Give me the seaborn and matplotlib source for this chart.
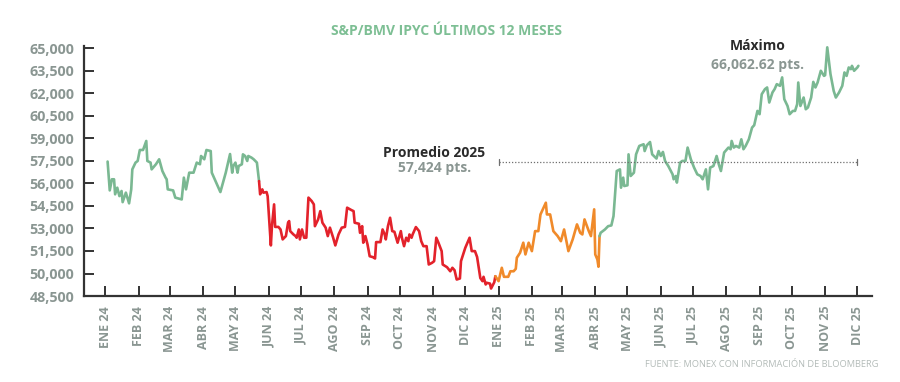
import matplotlib
matplotlib.use('agg')

import pandas as pd
import seaborn as sns
import matplotlib.pyplot as plt
from matplotlib.ticker import FuncFormatter

sns.set_style('white')
plt.rcParams['font.family'] = ['Open Sans', 'DejaVu Sans']

# days since 2024-01-01 and index level
days = [2, 4, 6, 8, 9, 11, 13, 15, 16, 19, 22, 24, 25, 28, 30, 32, 35, 38, 39, 42,
        43, 47, 50, 53, 56, 57, 58, 63, 65, 71, 73, 75, 78, 82, 85, 88, 89, 92, 94, 98,
        99, 107, 112, 116, 118, 119, 121, 123, 124, 127, 128, 130, 132, 133, 136, 138, 141,
        143, 144, 146, 147, 150, 151, 154, 155, 157, 158, 161, 163, 165, 168, 170, 171, 172,
        175, 177, 178, 180, 181, 183, 185, 187, 189, 192, 194, 195, 198, 200, 202, 205, 207,
        209, 212, 214, 217, 220, 223, 225, 229, 231, 232, 236, 237, 239, 240, 242, 244, 246,
        249, 251, 252, 256, 258, 260, 261, 263, 265, 267, 269, 272, 275, 276, 278, 280, 282,
        283, 285, 286, 289, 292, 294, 296, 299, 301, 304, 306, 308, 310, 313, 314, 318, 321,
        323, 325, 327, 330, 331, 335, 339, 341, 344, 346, 349, 351, 352, 354, 355, 358, 359,
        362, 363, 366, 369, 371, 375, 377, 380, 382, 383, 386, 389, 391, 394, 397, 400, 403,
        405, 410, 411, 414, 417, 421, 424, 427, 431, 435, 439, 442, 444, 446, 450, 452, 455,
        456, 458, 459, 460, 461, 465, 468, 471, 473, 476, 479, 480, 482, 483, 486, 487, 489,
        492, 494, 497, 501, 502, 504, 507, 509, 513, 515, 517, 519, 521, 524, 528, 529, 531,
        532, 535, 537, 540, 542, 545, 548, 551, 554, 556, 559, 561, 563, 566, 569, 571, 573,
        576, 580, 582, 583, 585, 587, 590, 592, 594, 596, 599, 602, 604, 607, 609, 611, 614,
        616, 618, 621, 623, 625, 628, 630, 632, 635, 637, 640, 642, 644, 645, 647, 650, 652,
        654, 657, 659, 661, 663, 666, 669, 670, 672, 675, 678, 680, 683, 686, 688, 690, 692,
        694, 695, 697, 700, 701]

values = [57450, 55530, 56270, 56270, 55270, 55710, 55150, 55490, 54750, 55380, 54670, 55600,
          56930, 57380, 57490, 58220, 58220, 58820, 57490, 57380, 56930, 57270, 57600, 56820,
          56380, 56270, 55600, 55530, 55050, 54930, 56380, 55600, 56710, 56710, 57380, 57270,
          57820, 57600, 58220, 58150, 56710, 55420, 56710, 57950, 56710, 57150, 57380, 56710,
          57150, 57270, 57930, 57820, 57490, 57820, 57710, 57600, 57380,
          56150, 55270, 55600, 55380, 55420, 55150, 51870, 53150, 54600, 53100, 53100, 52930,
          52270, 52490, 53380, 53490, 52820, 52600, 52490, 52380, 52930, 52270, 52930, 52380,
          52380, 55050, 54820, 54600, 53150, 53600, 54150, 53380, 53050, 52490, 53050, 52380,
          51870, 52600, 53050, 53100, 54380, 54220, 54150, 53380, 53310, 52710, 53150, 52050,
          52490, 51930, 51150, 51090, 51000, 52090, 52090, 52930, 52600, 52270, 53150, 53710,
          52820, 52780, 52050, 52820, 52380, 51820, 52380, 52150, 52600, 52380, 52600, 53090,
          52820, 52150, 51820, 51820, 50600, 50710, 50820, 52380, 52050, 51490, 50600, 50420,
          50150, 50380, 50220, 49600, 49670, 50820, 51710, 52380, 51490, 51490, 51100, 49700,
          49490, 49780, 49270, 49380, 49330, 49000, 49420,
          49820, 49490, 50380, 49780, 49780, 50150, 50150, 50310, 51050, 51380, 52050, 51270,
          52050, 51490, 52820, 52820, 53930, 54710, 53930, 53930, 52820, 52490, 52150, 52930,
          51490, 52270, 53270, 52710, 52600, 53600, 52820, 52490, 54270, 51270, 50930, 50450,
          52490, 52710, 52930, 53150, 53200, 53820, 56820, 56930, 55710, 56380, 55820, 55870,
          57930, 56490, 56710, 57930, 58490, 58600, 58150, 58530, 58750, 57930, 57650, 58150,
          57820, 58090, 57490, 57150, 56600, 56270, 56490, 56050, 57380, 57490, 57490, 58380,
          57600, 57050, 56600, 56490, 56270, 56930, 55600, 57050, 57150, 57820, 57270, 56820,
          58050, 58380, 58270, 58820, 58380, 58490, 58380, 58930, 58270, 58490, 58930, 59710,
          59870, 60820, 60600, 61930, 62270, 62380, 61380, 62050, 62270, 62600, 62490, 63050,
          61600, 61150, 60600, 60820, 60820, 61270, 62710, 61150, 61710, 60930, 61050, 61710,
          62750, 62380, 62710, 63490, 63150, 63200, 65050, 63270, 62150, 61710, 62050, 62490,
          63380, 63150, 63710, 63600, 63820, 63490, 63710, 63820]

# colour phases (first and last day of each segment)
phase_start = [0, 143, 363, 460]
phase_end = [143, 363, 460, 701]
phase_color = ['#7ab892', '#e3222b', '#f08a2a', '#7ab892']

avg_2025 = 57424
max_label = '66,062.62 pts.'
meses = ['ENE', 'FEB', 'MAR', 'ABR', 'MAY', 'JUN', 'JUL', 'AGO', 'SEP', 'OCT', 'NOV', 'DIC']
yticks = list(range(48500, 65001, 1500))

start = pd.Timestamp('2024-01-01')
df = pd.DataFrame({'day': days, 'value': values})
df['date'] = start + pd.to_timedelta(df['day'], unit='D')

gray = '#8a9692'
dark = '#2b2b2b'

fig = plt.figure(figsize=(9, 3.82), dpi=100)
ax = fig.add_axes([0.0933, 0.225, 0.876, 0.655])

for lo, hi, c in zip(phase_start, phase_end, phase_color):
    sub = df[(df['day'] >= lo) & (df['day'] <= hi)]
    sns.lineplot(data=sub, x='date', y='value', color=c, lw=1.9,
                 estimator=None, sort=False, ax=ax)

# 2025 average line
avg_from = pd.Timestamp('2025-01-01')
avg_to = pd.Timestamp('2025-12-01')
ax.plot([avg_from, avg_to], [avg_2025, avg_2025], ls=(0, (1, 1.5)), color='#6f6f6f', lw=0.9)
for d in (avg_from, avg_to):
    ax.plot([d, d], [avg_2025 - 200, avg_2025 + 200], color='#6f6f6f', lw=0.9)

ax.annotate('Promedio 2025', xy=(avg_from, avg_2025), xytext=(-65, 9),
            textcoords='offset pixels', ha='center', va='center',
            fontsize=10, fontweight='bold', color=dark)
ax.annotate('57,424 pts.', xy=(avg_from, avg_2025), xytext=(-64, -6),
            textcoords='offset pixels', ha='center', va='center',
            fontsize=10, fontweight='bold', color=gray)

imax = df['value'].idxmax()
peak = (df.loc[imax, 'date'], df.loc[imax, 'value'])
ax.annotate('Máximo', xy=peak, xytext=(-70, 1), textcoords='offset pixels',
            ha='center', va='center', fontsize=10, fontweight='bold', color=dark)
ax.annotate(max_label, xy=peak, xytext=(-70, -18), textcoords='offset pixels',
            ha='center', va='center', fontsize=10, fontweight='bold', color=gray)

ticks = pd.date_range('2024-01-01', '2025-12-01', freq='MS')
ax.set_xticks(ticks)
ax.set_xticklabels(['{} {}'.format(meses[t.month - 1], str(t.year)[2:]) for t in ticks],
                   rotation=90, fontsize=9, fontweight='bold', color=gray)
ax.set_yticks(yticks)
ax.yaxis.set_major_formatter(FuncFormatter(lambda v, p: '{:,.0f}'.format(v)))
for lab in ax.get_yticklabels():
    lab.set_fontweight('bold')
ax.tick_params(axis='y', labelsize=10.3, labelcolor=gray)

ax.set_xlim(pd.Timestamp('2023-12-12'), pd.Timestamp('2025-12-15'))
ax.set_ylim(48500, 65150)
ax.tick_params(direction='in', length=7, width=1.4, color='#333333', pad=7, left=True, bottom=True)
ax.set_xlabel('')
ax.set_ylabel('')

sns.despine(ax=ax)
for s in ('left', 'bottom'):
    ax.spines[s].set_color('#333333')
    ax.spines[s].set_linewidth(1.6)

fig.text(0.496, 0.92, 'S&P/BMV IPYC ÚLTIMOS 12 MESES', ha='center', va='center',
         fontsize=10, fontweight='bold', color='#7dbf94')
fig.text(0.976, 0.047, 'FUENTE: MONEX CON INFORMACIÓN DE BLOOMBERG', ha='right', va='center',
         fontsize=6.7, color='#b4bcb9')

fig.savefig('out.png', dpi=100)
